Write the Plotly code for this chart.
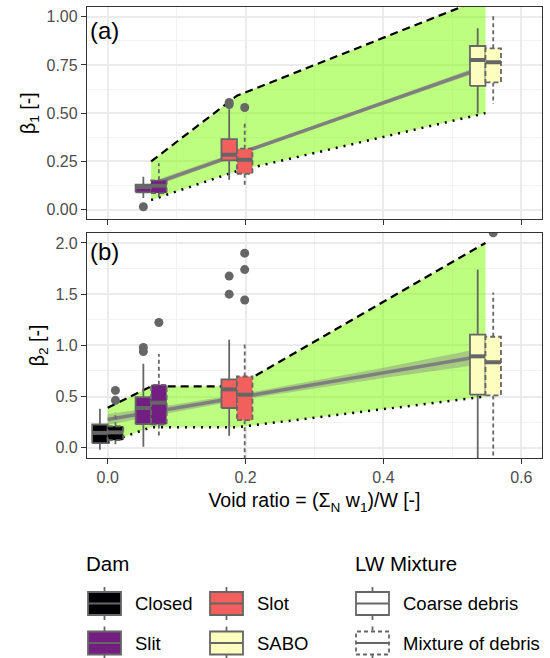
import plotly.graph_objects as go
from plotly.subplots import make_subplots

# ---------------- data ----------------
dams = ["Closed", "Slit", "Slot", "SABO"]
dam_colors = ["#000004", "#721F81", "#F1605D", "#FCFDBF"]
void_ratio = [0.0, 0.063, 0.1875, 0.548]          # group centre per dam
mixtures = ["Coarse debris", "Mixture of debris"]

# box stats: [lower whisker, q1, median, q3, upper whisker]  (None = no data)
beta1_coarse = [None,
                [0.06, 0.09, 0.118, 0.13, 0.17],
                [0.155, 0.255, 0.284, 0.365, 0.52],
                [0.50, 0.641, 0.776, 0.848, 0.94]]
beta1_mixture = [None,
                 [0.06, 0.086, 0.124, 0.152, 0.24],
                 [0.117, 0.186, 0.259, 0.316, 0.45],
                 [0.548, 0.659, 0.764, 0.836, 1.017]]
beta1_out_coarse = [[], [0.015], [0.545, 0.555], []]
beta1_out_mixture = [[], [], [0.529], []]

beta2_coarse = [[-0.02, 0.045, 0.145, 0.227, 0.38],
                [0.01, 0.23, 0.388, 0.495, 0.82],
                [0.117, 0.388, 0.57, 0.667, 1.055],
                [-0.3, 0.518, 0.893, 1.104, 1.74]]
beta2_mixture = [[0.026, 0.074, 0.15, 0.21, 0.35],
                 [0.12, 0.227, 0.44, 0.615, 0.916],
                 [-0.3, 0.269, 0.518, 0.696, 1.02],
                 [-0.3, 0.511, 0.835, 1.084, 1.515]]
beta2_out_coarse = [[], [0.94, 0.98], [1.50, 1.676], []]
beta2_out_mixture = [[0.463, 0.56], [1.223], [1.443, 1.74, 1.90], [2.10]]

# envelope (upper dashed / lower dotted)
env_x_a = [0.063, 0.1875, 0.548]
env_up_a = [0.25, 0.59, 1.10]
env_lo_a = [0.05, 0.20, 0.50]
env_x_b = [0.0, 0.063, 0.1875, 0.548]
env_up_b = [0.39, 0.60, 0.60, 2.00]
env_lo_b = [0.05, 0.20, 0.20, 0.50]

# linear fit with confidence band
fit_x_a = [0.063, 0.2, 0.3, 0.4, 0.548]
fit_a = [0.13, 0.302, 0.428, 0.554, 0.74]
fit_lo_a = [0.115, 0.292, 0.42, 0.544, 0.725]
fit_hi_a = [0.145, 0.312, 0.436, 0.564, 0.755]
fit_x_b = [0.0, 0.1, 0.2, 0.3, 0.4, 0.548]
fit_b = [0.275, 0.389, 0.503, 0.617, 0.731, 0.90]
fit_lo_b = [0.225, 0.352, 0.475, 0.58, 0.68, 0.82]
fit_hi_b = [0.328, 0.425, 0.532, 0.655, 0.782, 0.98]

x_ticks = [0.0, 0.2, 0.4, 0.6]

# ---------------- style ----------------
GRAY = "#666666"
FONT = "Liberation Sans"
BW = 0.0225          # box width (data units)
GREEN = "rgba(124,252,0,0.5)"

fig = make_subplots(rows=2, cols=1)


def add_envelope(row, xs, up, lo):
    fig.add_trace(go.Scatter(x=xs + xs[::-1], y=up + lo[::-1], fill="toself",
                             fillcolor=GREEN, mode="lines", line=dict(width=0),
                             showlegend=False, hoverinfo="skip"), row=row, col=1)
    fig.add_trace(go.Scatter(x=xs, y=up, mode="lines",
                             line=dict(color="black", width=2.2, dash="8px,5px"),
                             showlegend=False), row=row, col=1)
    fig.add_trace(go.Scatter(x=xs, y=lo, mode="lines",
                             line=dict(color="black", width=2.5, dash="2px,6px"),
                             showlegend=False), row=row, col=1)


def add_fit(row, xs, f, lo, hi):
    fig.add_trace(go.Scatter(x=xs + xs[::-1], y=hi + lo[::-1], fill="toself",
                             fillcolor="rgba(128,128,128,0.4)", mode="lines",
                             line=dict(width=0), showlegend=False), row=row, col=1)
    fig.add_trace(go.Scatter(x=xs, y=f, mode="lines",
                             line=dict(color="#7F7F7F", width=3.5),
                             showlegend=False), row=row, col=1)


def add_box(row, xc, st, color, dashed):
    lo, q1, med, q3, hi = st
    x0, x1 = xc - BW / 2, xc + BW / 2
    bdash = "5px,3px" if dashed else "solid"
    wdash = "4px,3px" if dashed else "solid"
    fig.add_trace(go.Scatter(x=[xc, xc, None, xc, xc], y=[q3, hi, None, q1, lo],
                             mode="lines", line=dict(color=GRAY, width=1.8, dash=wdash),
                             showlegend=False), row=row, col=1)
    fig.add_trace(go.Scatter(x=[x0, x1, x1, x0, x0], y=[q1, q1, q3, q3, q1],
                             fill="toself", fillcolor=color, mode="lines",
                             line=dict(color=GRAY, width=1.8, dash=bdash),
                             showlegend=False), row=row, col=1)
    fig.add_trace(go.Scatter(x=[x0, x1], y=[med, med], mode="lines",
                             line=dict(color=GRAY, width=4), showlegend=False),
                  row=row, col=1)


def add_outliers(row, xc, vals):
    if vals:
        fig.add_trace(go.Scatter(x=[xc] * len(vals), y=vals, mode="markers",
                                 marker=dict(color=GRAY, size=9),
                                 showlegend=False), row=row, col=1)


add_envelope(1, env_x_a, env_up_a, env_lo_a)
add_envelope(2, env_x_b, env_up_b, env_lo_b)
add_fit(1, fit_x_a, fit_a, fit_lo_a, fit_hi_a)
add_fit(2, fit_x_b, fit_b, fit_lo_b, fit_hi_b)

for row, coarse, mix, oc, om in [(1, beta1_coarse, beta1_mixture, beta1_out_coarse, beta1_out_mixture),
                                 (2, beta2_coarse, beta2_mixture, beta2_out_coarse, beta2_out_mixture)]:
    for i, xc in enumerate(void_ratio):
        if coarse[i] is not None:
            add_box(row, xc - BW / 2, coarse[i], dam_colors[i], False)
        if mix[i] is not None:
            add_box(row, xc + BW / 2, mix[i], dam_colors[i], True)
    for i, xc in enumerate(void_ratio):
        add_outliers(row, xc - BW / 2, oc[i])
        add_outliers(row, xc + BW / 2, om[i])

# ---------------- axes ----------------
axis_common = dict(showline=True, linecolor="#333333", linewidth=1.3, mirror=True,
                   showgrid=True, gridcolor="#EBEBEB", gridwidth=1.5, zeroline=False,
                   ticks="outside", ticklen=5, tickwidth=1.2, tickcolor="#333333",
                   automargin=False,
                   tickfont=dict(family=FONT, size=16, color="#4D4D4D"))

fig.update_xaxes(range=[-0.03, 0.63], tickvals=x_ticks,
                 minor=dict(dtick=0.1, tick0=0, showgrid=True, gridcolor="#F2F2F2", gridwidth=1),
                 **axis_common)
fig.update_xaxes(showticklabels=False, row=1, col=1)
fig.update_xaxes(tickformat=".1f", row=2, col=1,
                 title=dict(text="Void ratio = (Σ<sub>N</sub> w<sub>1</sub>)/W [-]",
                            font=dict(family=FONT, size=19.5, color="black"), standoff=8))
fig.update_yaxes(**axis_common)
fig.update_yaxes(range=[-0.05, 1.05], tickvals=[0, 0.25, 0.5, 0.75, 1.0], tickformat=".2f",
                 minor=dict(dtick=0.125, tick0=0, showgrid=True, gridcolor="#F2F2F2", gridwidth=1),
                 title=dict(text="β<sub>1</sub> [-]", font=dict(family=FONT, size=19.5, color="black"),
                            standoff=5),
                 row=1, col=1)
fig.update_yaxes(range=[-0.1, 2.1], tickvals=[0, 0.5, 1.0, 1.5, 2.0], tickformat=".1f",
                 minor=dict(dtick=0.25, tick0=0, showgrid=True, gridcolor="#F2F2F2", gridwidth=1),
                 title=dict(text="β<sub>2</sub> [-]", font=dict(family=FONT, size=19.5, color="black"),
                            standoff=5),
                 row=2, col=1)

# ---------------- layout ----------------
L, R, T, B = 87, 8, 7, 200
W, H = 550, 658
PW, PH = W - L - R, H - T - B
bottom_px = H - B


def px2x(px):
    return (px - L) / PW


def py2y(py):
    return (bottom_px - py) / PH


fig.update_layout(
    width=W, height=H, margin=dict(l=L, r=R, t=T, b=B, autoexpand=False),
    paper_bgcolor="white", plot_bgcolor="white", showlegend=False,
    font=dict(family=FONT, color="black"),
    xaxis=dict(domain=[0, 1]), xaxis2=dict(domain=[0, 1]),
    yaxis=dict(domain=[py2y(219.3), 1.0]),
    yaxis2=dict(domain=[0.0, py2y(232.7)]),
)

annotations = []
# panel tags
annotations.append(dict(text="(a)", xref="paper", yref="paper", x=px2x(87.5), y=py2y(30),
                        xanchor="left", yanchor="middle", showarrow=False,
                        font=dict(family=FONT, size=24, color="black")))
annotations.append(dict(text="(b)", xref="paper", yref="paper", x=px2x(87.5), y=py2y(251),
                        xanchor="left", yanchor="middle", showarrow=False,
                        font=dict(family=FONT, size=24, color="black")))

# ---------------- manual legend ----------------
shapes = []
row_y = [603.5, 643.0]
key_w, key_h, stub = 33, 23, 5


def key(x0px, cy, fill, dashed):
    d = "4px,3px" if dashed else "solid"
    xc = x0px + key_w / 2
    shapes.append(dict(type="line", xref="paper", yref="paper",
                       x0=px2x(xc), x1=px2x(xc), y0=py2y(cy - key_h / 2 - stub), y1=py2y(cy + key_h / 2 + stub),
                       line=dict(color=GRAY, width=1.8, dash=d)))
    shapes.append(dict(type="rect", xref="paper", yref="paper",
                       x0=px2x(x0px), x1=px2x(x0px + key_w), y0=py2y(cy + key_h / 2), y1=py2y(cy - key_h / 2),
                       fillcolor=fill, line=dict(color=GRAY, width=1.8, dash=d)))
    shapes.append(dict(type="line", xref="paper", yref="paper",
                       x0=px2x(x0px), x1=px2x(x0px + key_w), y0=py2y(cy), y1=py2y(cy),
                       line=dict(color=GRAY, width=2)))


def label(text, xpx, cy, size=18.5):
    annotations.append(dict(text=text, xref="paper", yref="paper", x=px2x(xpx), y=py2y(cy),
                            xanchor="left", yanchor="middle", showarrow=False,
                            font=dict(family=FONT, size=size, color="black")))


label("Dam", 83.5, 563.5, 20.5)
label("LW Mixture", 352.5, 563.5, 20.5)
dam_key_x = [88, 88, 210, 210]
dam_row = [0, 1, 0, 1]
for i, name in enumerate(dams):
    key(dam_key_x[i], row_y[dam_row[i]], dam_colors[i], False)
    label(name, dam_key_x[i] + 45, row_y[dam_row[i]])
for j, name in enumerate(mixtures):
    key(356, row_y[j], "white", j == 1)
    label(name, 401, row_y[j])

fig.update_layout(annotations=annotations, shapes=shapes)

fig.write_html("out.html", config={"displayModeBar": False},
               post_script="document.body.style.margin='0';document.body.style.overflow='hidden';")
